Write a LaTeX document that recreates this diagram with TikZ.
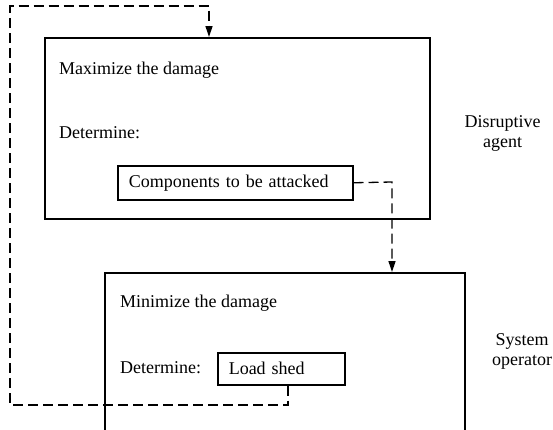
\documentclass[tikz,border=0pt]{standalone}
\usepackage{fontspec}
\setmainfont{Liberation Serif}
\usetikzlibrary{arrows.meta,positioning}

\begin{document}
\begin{tikzpicture}[x=1pt, y=-1pt,
  font=\fontsize{18}{20}\selectfont, >={Triangle[length=11pt,width=7pt]},
  panel/.style={draw, line width=1.5pt, anchor=north west, inner sep=0pt},
  item/.style={draw, line width=1.5pt, anchor=north west, inner xsep=11pt, inner ysep=0pt, align=left},
  txt/.style={anchor=base west, inner sep=0pt},
  role/.style={align=center, inner sep=0pt},
  flow/.style={->, dash pattern=on 10pt off 5pt, line width=1.3pt}]
\useasboundingbox (0,0) rectangle (553,429);
\clip (0,0) rectangle (553,429);
% upper level: attacker
\node[panel, minimum width=385, minimum height=181] (agent) at (44,37) {};
\node[txt] (maxi) at (59,74) {Maximize the damage};
\node[txt] (det1) at (59,138) {Determine:};
\node[item, minimum height=34, text width=213] (comp) at (117,165) {Components to be attacked};
\node[role] (lagent) at (502.5,133) {Disruptive\\agent};
% lower level: defender
\node[panel, minimum width=360, minimum height=200] (oper) at (104,272) {};
\node[txt] (mini) at (120,307) {Minimize the damage};
\node[txt] (det2) at (120,373) {Determine:};
\node[item, minimum height=32, text width=105] (ls) at (217,352) {Load shed};
\node[role] (loper) at (522,351) {System\\operator};
% decisions passed between levels
\coordinate (b1) at (392,182);
\draw[flow] (comp.east) -- (b1) -- (b1 |- oper.north);
\coordinate (a1) at (288,405);
\coordinate (a2) at (10,405);
\coordinate (a3) at (10,6);
\coordinate (a4) at (209,6);
\draw[flow] (ls.south -| a1) -- (a1) -- (a2) -- (a3) -- (a4) -- (a4 |- agent.north);
\end{tikzpicture}
\end{document}
